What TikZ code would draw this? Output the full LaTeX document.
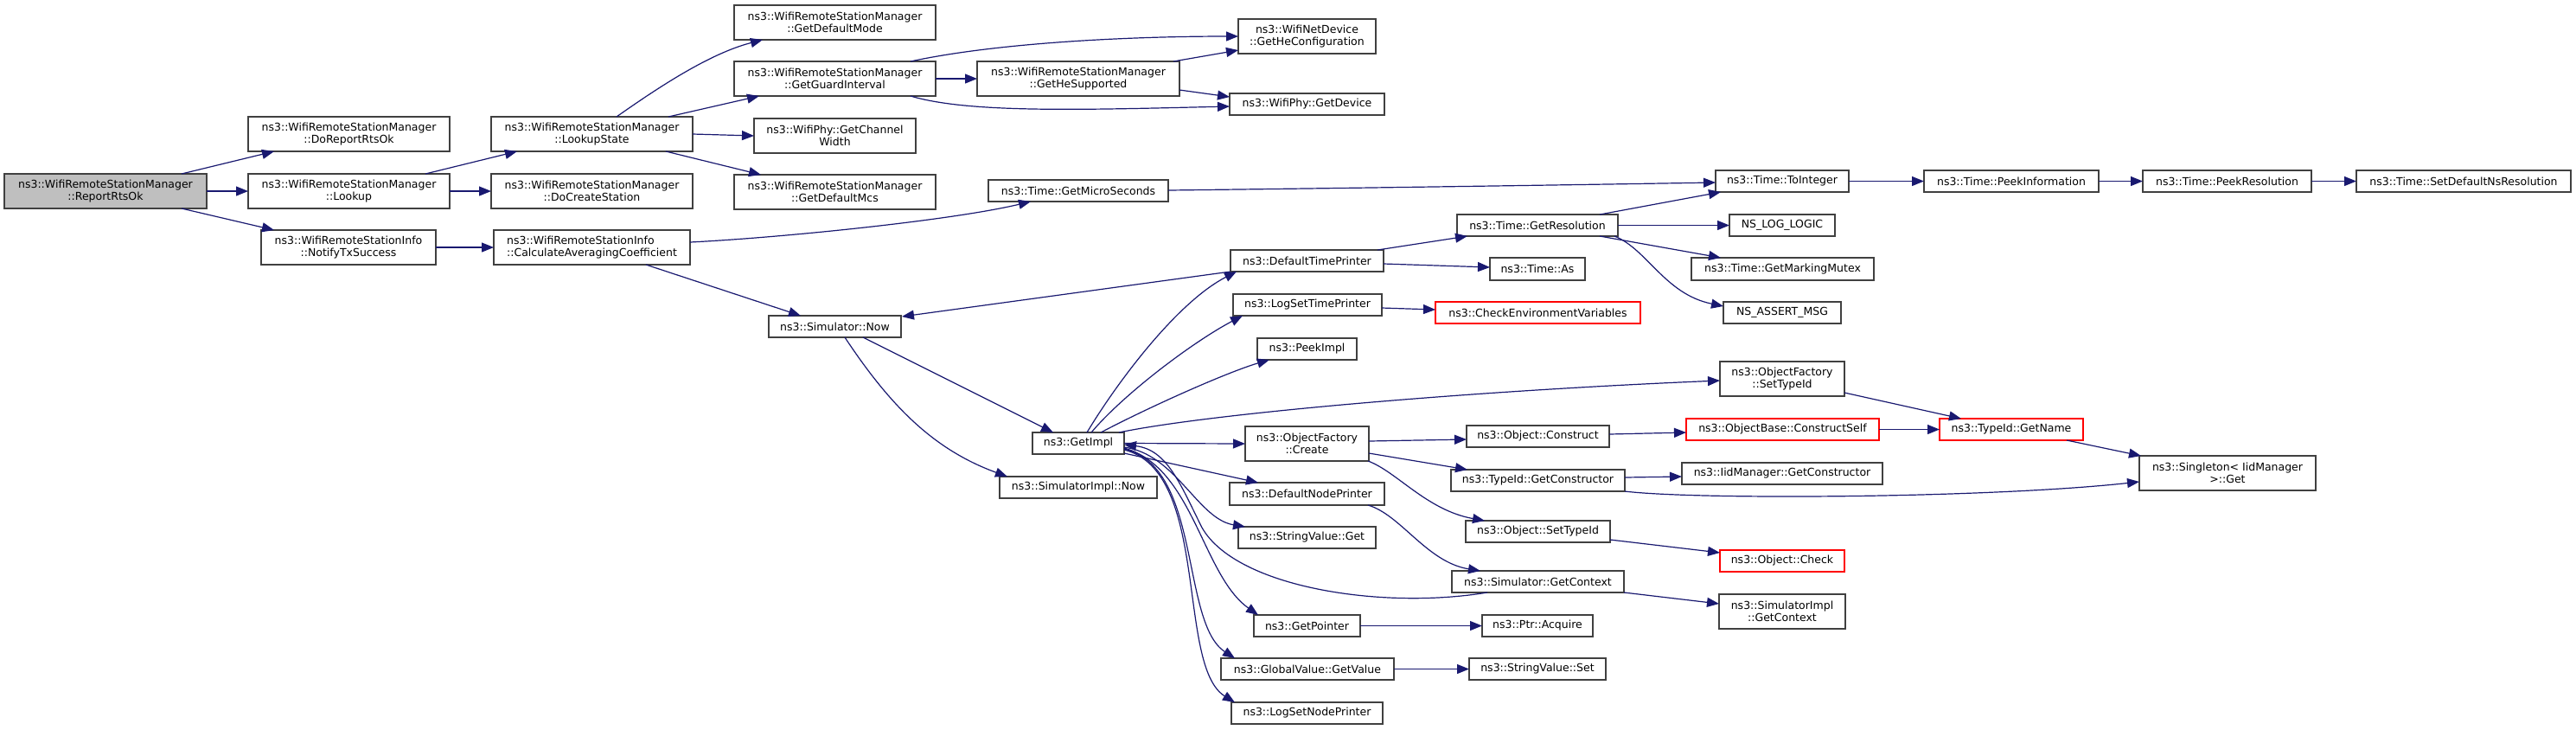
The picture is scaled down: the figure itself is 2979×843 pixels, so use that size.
\documentclass[tikz,border=0pt]{standalone}
\usepackage{fontspec}
\setmainfont{DejaVu Sans}
\usetikzlibrary{arrows.meta,calc}
\definecolor{edgeblue}{HTML}{191970}
\definecolor{boxgray}{HTML}{404040}
\definecolor{rootgray}{HTML}{BFBFBF}
\newcommand{\mkbox}[7][]{\node[box,#1,minimum width={(#5-#3)*0.5pt},minimum height={(#6-#4)*0.5pt}] (#2) at ({(#3+#5)/2},{(#4+#6)/2}) {#7};}
\tikzset{
  box/.style={draw=boxgray,line width=0.65pt,fill=white,inner sep=0pt,outer sep=0pt,align=center,font=\fontsize{6.25}{7.25}\selectfont},
  root/.style={fill=rootgray},
  trunc/.style={draw=red},
  e/.style={draw=edgeblue,line width=0.6pt,-{Triangle[length=7pt,width=5.5pt]},fill=none}
}
\begin{document}
\begin{tikzpicture}[x=0.5pt,y=-0.5pt]
\useasboundingbox (0,0) rectangle (2979,843);
% nodes
\mkbox[root]{rr}{5}{201}{239}{241}{ns3::WifiRemoteStationManager\\::ReportRtsOk}
\mkbox{dors}{287}{135}{520}{175}{ns3::WifiRemoteStationManager\\::DoReportRtsOk}
\mkbox{lk}{287}{201}{520}{241}{ns3::WifiRemoteStationManager\\::Lookup}
\mkbox{nts}{302}{266}{504}{306}{ns3::WifiRemoteStationInfo\\::NotifyTxSuccess}
\mkbox{ls}{568}{135}{801}{175}{ns3::WifiRemoteStationManager\\::LookupState}
\mkbox{dcs}{568}{201}{801}{241}{ns3::WifiRemoteStationManager\\::DoCreateStation}
\mkbox[align=left]{cac}{571}{266}{798}{306}{ns3::WifiRemoteStationInfo\\::CalculateAveragingCoefficient}
\mkbox{gdmode}{849}{6}{1082}{46}{ns3::WifiRemoteStationManager\\::GetDefaultMode}
\mkbox{ggi}{849}{71}{1082}{111}{ns3::WifiRemoteStationManager\\::GetGuardInterval}
\mkbox{gcw}{872}{137}{1059}{177}{ns3::WifiPhy::GetChannel\\Width}
\mkbox{gdmcs}{849}{202}{1082}{242}{ns3::WifiRemoteStationManager\\::GetDefaultMcs}
\mkbox{ghs}{1130}{71}{1364}{111}{ns3::WifiRemoteStationManager\\::GetHeSupported}
\mkbox{ghc}{1432}{22}{1591}{62}{ns3::WifiNetDevice\\::GetHeConfiguration}
\mkbox{gdev}{1422}{108}{1601}{133}{ns3::WifiPhy::GetDevice}
\mkbox{gms}{1143}{208}{1351}{233}{ns3::Time::GetMicroSeconds}
\mkbox{simnow}{889}{365}{1042}{390}{ns3::Simulator::Now}
\mkbox{dtp}{1423}{289}{1600}{314}{ns3::DefaultTimePrinter}
\mkbox{lstp}{1426}{340}{1598}{365}{ns3::LogSetTimePrinter}
\mkbox{pimpl}{1454}{391}{1569}{416}{ns3::PeekImpl}
\mkbox{gres}{1685}{248}{1871}{273}{ns3::Time::GetResolution}
\mkbox{tas}{1723}{298}{1833}{324}{ns3::Time::As}
\mkbox[trunc]{cev}{1660}{349}{1897}{374}{ns3::CheckEnvironmentVariables}
\mkbox{toint}{1984}{197}{2138}{222}{ns3::Time::ToInteger}
\mkbox{nslog}{2000}{248}{2122}{273}{NS\_LOG\_LOGIC}
\mkbox{gmm}{1956}{298}{2167}{324}{ns3::Time::GetMarkingMutex}
\mkbox{nsassert}{1993}{349}{2129}{374}{NS\_ASSERT\_MSG}
\mkbox{pinfo}{2225}{197}{2427}{222}{ns3::Time::PeekInformation}
\mkbox{pres}{2478}{197}{2673}{222}{ns3::Time::PeekResolution}
\mkbox{sdnr}{2725}{197}{2973}{222}{ns3::Time::SetDefaultNsResolution}
\mkbox{gimpl}{1194}{500}{1300}{525}{ns3::GetImpl}
\mkbox{simplnow}{1156}{551}{1338}{576}{ns3::SimulatorImpl::Now}
\mkbox{ofc}{1440}{493}{1583}{533}{ns3::ObjectFactory\\::Create}
\mkbox{dnp}{1422}{558}{1601}{584}{ns3::DefaultNodePrinter}
\mkbox{svget}{1432}{609}{1591}{634}{ns3::StringValue::Get}
\mkbox{gptr}{1450}{711}{1573}{736}{ns3::GetPointer}
\mkbox{gvgv}{1412}{761}{1612}{786}{ns3::GlobalValue::GetValue}
\mkbox{lsnp}{1424}{812}{1599}{837}{ns3::LogSetNodePrinter}
\mkbox{ofst}{1989}{418}{2133}{458}{ns3::ObjectFactory\\::SetTypeId}
\mkbox{oc}{1696}{492}{1861}{517}{ns3::Object::Construct}
\mkbox[trunc]{obcs}{1950}{484}{2173}{509}{ns3::ObjectBase::ConstructSelf}
\mkbox{tgc}{1678}{543}{1879}{568}{ns3::TypeId::GetConstructor}
\mkbox{iidgc}{1945}{535}{2177}{560}{ns3::IidManager::GetConstructor}
\mkbox{ost}{1695}{602}{1862}{627}{ns3::Object::SetTypeId}
\mkbox[trunc]{ochk}{1989}{636}{2133}{661}{ns3::Object::Check}
\mkbox{sgc}{1679}{660}{1878}{685}{ns3::Simulator::GetContext}
\mkbox{sigc}{1988}{687}{2134}{727}{ns3::SimulatorImpl\\::GetContext}
\mkbox{pacq}{1714}{711}{1842}{736}{ns3::Ptr::Acquire}
\mkbox{svset}{1699}{761}{1857}{786}{ns3::StringValue::Set}
\mkbox[trunc]{tgn}{2243}{484}{2409}{509}{ns3::TypeId::GetName}
\mkbox{sing}{2474}{527}{2678}{567}{ns3::Singleton< IidManager\\>::Get}
% edges
\draw[e] ($(rr.north west)+(205,0)$) -- ($(dors.north west)+(30,40)$);
\draw[e] (rr.east) -- (lk.west);
\draw[e] ($(rr.north west)+(205,40)$) -- ($(nts.north west)+(15,0)$);
\draw[e] ($(lk.north west)+(205,0)$) -- ($(ls.north west)+(30,40)$);
\draw[e] (lk.east) -- (dcs.west);
\draw[e] (nts.east) -- (cac.west);
\draw[e] ($(ls.north west)+(145,0)$) .. controls (760,102) and (820,62) .. ($(gdmode.north west)+(33,40)$);
\draw[e] ($(ls.north west)+(205,0)$) -- ($(ggi.north west)+(29,40)$);
\draw[e] (ls.east) -- (gcw.west);
\draw[e] ($(ls.north west)+(202,40)$) -- ($(gdmcs.north west)+(31,0)$);
\draw[e] ($(ggi.north west)+(204,0)$) .. controls (1150,50) and (1300,42) .. ($(ghc.north west)+(0,20)$);
\draw[e] (ggi.east) -- (ghs.west);
\draw[e] ($(ggi.north west)+(204,40)$) .. controls (1120,131) and (1250,127) .. ($(gdev.north west)+(0,15)$);
\draw[e] ($(ghs.north west)+(227,0)$) -- ($(ghc.north west)+(0,36)$);
\draw[e] ($(ghs.north west)+(234,33)$) -- ($(gdev.north west)+(0,4)$);
\draw[e] ($(cac.north west)+(227,14)$) .. controls (900,275) and (1100,255) .. ($(gms.north west)+(49,25)$);
\draw[e] ($(cac.north west)+(176,40)$) -- ($(simnow.north west)+(37,0)$);
\draw[e] ($(gms.north west)+(208,12)$) .. controls (1600,217) and (1800,214) .. ($(toint.north west)+(0,14)$);
\draw[e] (toint.east) -- (pinfo.west);
\draw[e] (pinfo.east) -- (pres.west);
\draw[e] (pres.east) -- (sdnr.west);
\draw[e] ($(simnow.north west)+(109,25)$) -- ($(gimpl.north west)+(24,0)$);
\draw[e] ($(simnow.north west)+(88,25)$) .. controls (1030,470) and (1080,520) .. ($(simplnow.north west)+(9,0)$);
\draw[e] (dtp.south west) -- ($(simnow.north west)+(154,1)$);
\draw[e] ($(dtp.north west)+(170,0)$) -- ($(gres.north west)+(12,25)$);
\draw[e] ($(dtp.north west)+(177,16)$) -- ($(tas.north west)+(0,11)$);
\draw[e] ($(gres.north west)+(165,0)$) -- ($(toint.north west)+(6,25)$);
\draw[e] (gres.east) -- (nslog.west);
\draw[e] ($(gres.north west)+(165,25)$) -- ($(gmm.north west)+(34,0)$);
\draw[e] ($(gres.north west)+(182,25)$) .. controls (1905,288) and (1925,340) .. ($(nsassert.north west)+(0,5)$);
\draw[e] ($(lstp.north west)+(172,16)$) -- ($(cev.north west)+(0,9)$);
\draw[e] ($(gimpl.north west)+(63,0)$) .. controls (1290,445) and (1360,350) .. ($(dtp.north west)+(7,25)$);
\draw[e] ($(gimpl.north west)+(68,0)$) .. controls (1300,455) and (1380,395) .. ($(lstp.north west)+(11,25)$);
\draw[e] ($(gimpl.north west)+(79,0)$) .. controls (1330,470) and (1420,430) .. ($(pimpl.north west)+(14,25)$);
\draw[e] ($(gimpl.north west)+(100,0)$) .. controls (1400,478) and (1700,452) .. ($(ofst.north west)+(0,22)$);
\draw[e] (gimpl.east) -- (ofc.west);
\draw[e] ($(gimpl.north west)+(106,24)$) -- ($(dnp.north west)+(33,0)$);
\draw[e] ($(gimpl.north west)+(106,17)$) .. controls (1360,525) and (1385,600) .. ($(svget.north west)+(8,0)$);
\draw[e] ($(sgc.north west)+(41,25)$) .. controls (1600,705) and (1430,680) .. (1390,610) .. controls (1365,560) and (1350,520) .. ($(gimpl.north west)+(106,14)$);
\draw[e] ($(gimpl.north west)+(106,18)$) .. controls (1380,540) and (1390,665) .. ($(gptr.north west)+(5,0)$);
\draw[e] ($(gimpl.north west)+(106,19)$) .. controls (1390,540) and (1365,720) .. ($(gvgv.north west)+(16,0)$);
\draw[e] ($(gimpl.north west)+(106,20)$) .. controls (1400,545) and (1360,770) .. ($(lsnp.north west)+(4,0)$);
\draw[e] ($(dnp.north west)+(160,26)$) .. controls (1620,595) and (1650,650) .. ($(sgc.north west)+(33,0)$);
\draw[e] ($(ofc.north west)+(143,17)$) -- ($(oc.north west)+(0,16)$);
\draw[e] ($(ofc.north west)+(143,31)$) -- ($(tgc.north west)+(19,0)$);
\draw[e] ($(ofc.north west)+(142,40)$) .. controls (1615,545) and (1650,590) .. ($(ost.north west)+(22,0)$);
\draw[e] ($(oc.north west)+(165,10)$) -- ($(obcs.north west)+(0,16)$);
\draw[e] ($(tgc.north west)+(201,9)$) -- ($(iidgc.north west)+(0,16)$);
\draw[e] ($(tgc.north west)+(201,25)$) .. controls (1960,578) and (2300,576) .. ($(sing.north west)+(0,30)$);
\draw[e] ($(ost.north west)+(167,22)$) -- ($(ochk.north west)+(0,3)$);
\draw[e] ($(sgc.north west)+(199,25)$) -- ($(sigc.north west)+(0,11)$);
\draw[e] (gptr.east) -- (pacq.west);
\draw[e] (gvgv.east) -- (svset.west);
\draw[e] ($(ofst.north west)+(144,36)$) -- ($(tgn.north west)+(25,0)$);
\draw[e] (obcs.east) -- (tgn.west);
\draw[e] ($(tgn.north west)+(147,25)$) -- ($(sing.north west)+(2,0)$);
\end{tikzpicture}
\end{document}
